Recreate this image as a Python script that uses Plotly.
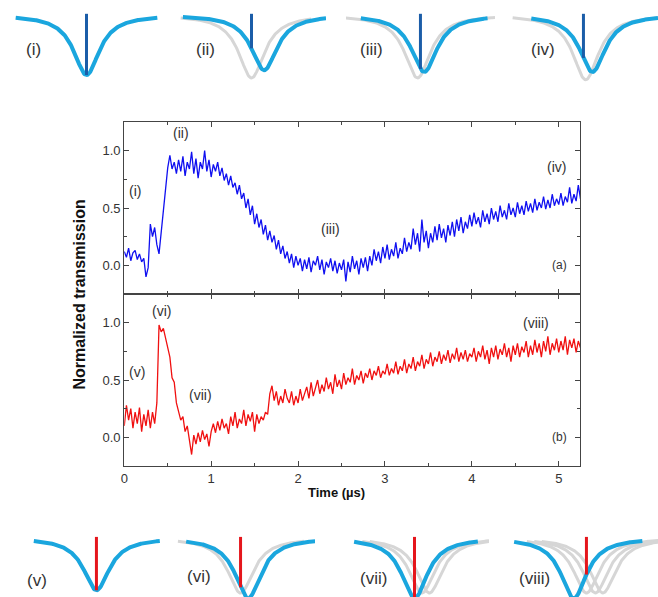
import numpy as np
import plotly.graph_objects as go

W, H = 658, 597

# ---------------- data ----------------
t_start, t_step = 0.0, 0.025
blue_trace = [
    0.12, 0.07, 0.15, 0.04, 0.11, 0.13, 0.05, 0.10, 0.03, 0.06,
    -0.10, -0.02, 0.36, 0.25, 0.33, 0.18, 0.10, 0.28, 0.52, 0.68,
    0.85, 0.96, 0.84, 0.90, 0.80, 0.92, 0.82, 0.95, 0.78, 0.90,
    0.84, 0.99, 0.80, 0.93, 0.76, 0.90, 0.84, 1.00, 0.82, 0.92,
    0.77, 0.88, 0.82, 0.90, 0.78, 0.85, 0.74, 0.80, 0.70, 0.78,
    0.68, 0.72, 0.62, 0.70, 0.58, 0.63, 0.50, 0.58, 0.44, 0.52,
    0.36, 0.45, 0.33, 0.40, 0.27, 0.35, 0.22, 0.30, 0.20, 0.26,
    0.14, 0.22, 0.10, 0.17, 0.06, 0.12, 0.02, 0.10, -0.02, 0.08,
    0.00, 0.06, -0.05, 0.05, -0.03, 0.07, -0.06, 0.04, 0.00, 0.08,
    -0.04, 0.05, -0.08, 0.03, -0.02, 0.06, -0.05, 0.04, -0.07, 0.02,
    -0.04, 0.05, -0.14, 0.03, -0.06, 0.08, -0.03, 0.04, -0.08, 0.06,
    -0.02, 0.07, -0.05, 0.08, 0.00, 0.14, 0.04, 0.12, 0.02, 0.16,
    0.06, 0.18, 0.05, 0.14, 0.08, 0.20, 0.06, 0.15, 0.10, 0.24,
    0.12, 0.20, 0.14, 0.32, 0.18, 0.28, 0.12, 0.40, 0.20, 0.30,
    0.15, 0.28, 0.20, 0.34, 0.22, 0.36, 0.24, 0.32, 0.20, 0.35,
    0.26, 0.38, 0.25, 0.40, 0.30, 0.42, 0.28, 0.38, 0.32, 0.44,
    0.34, 0.46, 0.36, 0.42, 0.33, 0.48, 0.38, 0.45, 0.36, 0.50,
    0.40, 0.47, 0.38, 0.52, 0.42, 0.48, 0.40, 0.54, 0.44, 0.50,
    0.42, 0.55, 0.45, 0.52, 0.44, 0.56, 0.47, 0.54, 0.46, 0.58,
    0.48, 0.55, 0.50, 0.60, 0.49, 0.57, 0.50, 0.62, 0.52, 0.58,
    0.53, 0.63, 0.52, 0.60, 0.55, 0.68, 0.54, 0.62, 0.56, 0.70,
    0.58,
]
red_trace = [
    0.10, 0.28, 0.15, 0.25, 0.08, 0.22, 0.12, 0.26, 0.05, 0.20,
    0.10, 0.24, 0.08, 0.22, 0.12, 0.30, 0.98, 0.92, 0.95, 0.86,
    0.80, 0.70, 0.52, 0.48, 0.30, 0.22, 0.15, 0.18, 0.05, 0.10,
    -0.05, -0.15, 0.02, -0.06, 0.04, -0.04, 0.06, -0.02, 0.03, -0.08,
    0.05, 0.12, 0.04, 0.14, 0.06, 0.16, 0.08, 0.12, 0.03, 0.18,
    0.10, 0.22, 0.08, 0.16, 0.12, 0.24, 0.10, 0.20, 0.14, 0.22,
    0.05, 0.20, 0.12, 0.18, 0.15, 0.22, 0.20, 0.38, 0.45, 0.32,
    0.40, 0.28, 0.36, 0.30, 0.42, 0.34, 0.30, 0.40, 0.28, 0.36,
    0.30, 0.42, 0.32, 0.38, 0.44, 0.34, 0.48, 0.36, 0.42, 0.50,
    0.38, 0.46, 0.40, 0.52, 0.42, 0.48, 0.38, 0.55, 0.44, 0.50,
    0.42, 0.56, 0.46, 0.52, 0.48, 0.60, 0.46, 0.54, 0.50, 0.58,
    0.47, 0.56, 0.52, 0.60, 0.50, 0.58, 0.54, 0.62, 0.52, 0.58,
    0.55, 0.64, 0.54, 0.60, 0.56, 0.66, 0.55, 0.62, 0.58, 0.68,
    0.56, 0.64, 0.60, 0.70, 0.58, 0.66, 0.62, 0.72, 0.60, 0.68,
    0.64, 0.74, 0.62, 0.70, 0.66, 0.75, 0.64, 0.72, 0.67, 0.76,
    0.65, 0.73, 0.68, 0.78, 0.66, 0.74, 0.68, 0.76, 0.66, 0.73,
    0.70, 0.78, 0.66, 0.75, 0.70, 0.80, 0.68, 0.76, 0.64, 0.78,
    0.70, 0.80, 0.68, 0.77, 0.72, 0.82, 0.70, 0.78, 0.66, 0.80,
    0.72, 0.82, 0.70, 0.79, 0.74, 0.84, 0.70, 0.80, 0.72, 0.85,
    0.74, 0.82, 0.70, 0.84, 0.75, 0.88, 0.72, 0.82, 0.76, 0.86,
    0.74, 0.84, 0.76, 0.88, 0.72, 0.85, 0.78, 0.86, 0.74, 0.84,
    0.78,
]
time_us = t_start + t_step * np.arange(len(blue_trace))

x_ticks = [0, 1, 2, 3, 4, 5]
y_ticks = [0.0, 0.5, 1.0]

# labels of the marked moments: (text, time, level)
top_marks_text = ["(i)", "(ii)", "(iii)", "(iv)"]
top_marks_t = [0.12, 0.65, 2.37, 4.97]
top_marks_v = [0.65, 1.15, 0.32, 0.86]
bot_marks_text = ["(v)", "(vi)", "(vii)", "(viii)"]
bot_marks_t = [0.15, 0.43, 0.88, 4.74]
bot_marks_v = [0.57, 1.10, 0.37, 1.00]

# schematic resonance pictures (detuning units, laser at 0)
top_labels = ["(i)", "(ii)", "(iii)", "(iv)"]
top_blue_center = [0.0, 0.17, 0.05, 0.12]
top_blue_depth = [1.0, 0.92, 0.95, 0.95]
top_blue_span = [(-0.95, 0.95), (-0.92, 1.0), (-0.8, 0.9), (-0.7, 1.0)]
top_gray_center = [[], [0.0], [-0.04], [0.03]]
top_gray_depth = [[], [1.05], [1.05], [1.08]]
top_gray_span = [[], [(-0.95, 0.8)], [(-1.0, 1.0)], [(-0.95, 1.0)]]

bot_labels = ["(v)", "(vi)", "(vii)", "(viii)"]
bot_blue_center = [0.0, 0.10, 0.0, -0.17]
bot_blue_depth = [0.95, 1.1, 1.1, 1.1]
bot_blue_span = [(-0.84, 0.85), (-0.73, 1.0), (-0.81, 0.85), (-0.97, 0.75)]
bot_gray_center = [[], [0.0], [0.10, 0.2], [0.0, 0.12, 0.22]]
bot_gray_depth = [[], [1.0], [1.0, 1.0], [1.0, 1.0, 1.0]]
bot_gray_span = [[], [(-0.84, 0.85)], [(-0.7, 1.0), (-0.6, 1.0)],
                 [(-0.8, 1.0), (-0.7, 1.0), (-0.6, 1.0)]]
hwhm = 0.21

# ---------------- styles / layout geometry (pixels) ----------------
BLUE_DATA = "#1010F0"
RED_DATA = "#F01010"
CURVE = "#1AA6DE"
GRAY = "#D6D6D6"
LASER_TOP = "#1B5DA8"
LASER_BOT = "#E5161C"
AXC = "#444444"
TXT = "#333333"
FONT = "Liberation Sans, Arial, sans-serif"

plot_l, plot_r = 121, 580
top_t, mid, bot_b = 122, 294, 466

def px(x):
    return x / W

def py(y):
    return 1 - y / H

fig = go.Figure()

fig.add_trace(go.Scatter(x=time_us, y=blue_trace, mode="lines",
                         line=dict(color=BLUE_DATA, width=1.3),
                         xaxis="x", yaxis="y", showlegend=False))
fig.add_trace(go.Scatter(x=time_us, y=red_trace, mode="lines",
                         line=dict(color=RED_DATA, width=1.3),
                         xaxis="x2", yaxis="y2", showlegend=False))

common_x = dict(range=[0, 5.25], tickvals=x_ticks, ticks="inside", ticklen=5,
                tickcolor=AXC, showline=True, linecolor=AXC, linewidth=1.2,
                mirror="allticks", showgrid=False, zeroline=False,
                minor=dict(dtick=0.5, tick0=0, ticks="inside", ticklen=3, tickcolor=AXC),
                tickfont=dict(family=FONT, size=13, color=TXT))
common_y = dict(range=[-0.25, 1.25], tickvals=y_ticks, ticktext=[f"{v:.1f}" for v in y_ticks],
                ticks="inside", ticklen=5, tickcolor=AXC, showline=True, linecolor=AXC,
                linewidth=1.2, mirror="allticks", showgrid=False, zeroline=False,
                minor=dict(dtick=0.25, tick0=0, ticks="inside", ticklen=3, tickcolor=AXC),
                tickfont=dict(family=FONT, size=13, color=TXT))

layout = dict(
    width=W, height=H, margin=dict(l=0, r=0, t=0, b=0),
    paper_bgcolor="white", plot_bgcolor="rgba(0,0,0,0)", showlegend=False,
    xaxis=dict(common_x, domain=[px(plot_l), px(plot_r)], anchor="y", showticklabels=False),
    yaxis=dict(common_y, domain=[py(mid), py(top_t)], anchor="x"),
    xaxis2=dict(common_x, domain=[px(plot_l), px(plot_r)], anchor="y2"),
    yaxis2=dict(common_y, domain=[py(bot_b), py(mid)], anchor="x2"),
)

annotations = []
for txt, t, v in zip(top_marks_text, top_marks_t, top_marks_v):
    annotations.append(dict(x=t, y=v, xref="x", yref="y", text=txt, showarrow=False,
                            xanchor="center", yanchor="middle",
                            font=dict(family=FONT, size=14, color=TXT)))
for txt, t, v in zip(bot_marks_text, bot_marks_t, bot_marks_v):
    annotations.append(dict(x=t, y=v, xref="x2", yref="y2", text=txt, showarrow=False,
                            xanchor="center", yanchor="middle",
                            font=dict(family=FONT, size=14, color=TXT)))
annotations.append(dict(x=5.12, y=0.0, xref="x", yref="y", text="(a)", showarrow=False,
                        xanchor="right", yanchor="middle",
                        font=dict(family=FONT, size=12, color=TXT)))
annotations.append(dict(x=5.12, y=0.0, xref="x2", yref="y2", text="(b)", showarrow=False,
                        xanchor="right", yanchor="middle",
                        font=dict(family=FONT, size=12, color=TXT)))
annotations.append(dict(x=px(75), y=py(295), xref="paper", yref="paper",
                        text="<b>Normalized transmission</b>", textangle=-90, showarrow=False,
                        xanchor="center", yanchor="middle",
                        font=dict(family=FONT, size=16, color="#111111")))
annotations.append(dict(x=px(335), y=py(493), xref="paper", yref="paper",
                        text="<b>Time (\u00b5s)</b>", showarrow=False,
                        xanchor="center", yanchor="middle",
                        font=dict(family=FONT, size=13, color="#111111")))

# ---------------- schematic panels ----------------
def lor(xs, c, depth):
    return -depth / (1 + ((xs - c) / hwhm) ** 2)

top_left_px = [8, 174, 344, 508]
bot_left_px = [18, 163, 338, 511]
top_label_px = [(30, 50), (203, 50), (370, 50), (542, 50)]
bot_label_px = [(33, 580), (196, 576), (372, 578), (534, 578)]
unit_px = 75.0

rows = [
    dict(lefts=top_left_px, labels=top_labels, bc=top_blue_center, bd=top_blue_depth,
         bs=top_blue_span, gc=top_gray_center, gd=top_gray_depth, gs=top_gray_span,
         ydom=(0, 95), base=15, unit_y=60.0, laser=LASER_TOP, lab=top_label_px),
    dict(lefts=bot_left_px, labels=bot_labels, bc=bot_blue_center, bd=bot_blue_depth,
         bs=bot_blue_span, gc=bot_gray_center, gd=bot_gray_depth, gs=bot_gray_span,
         ydom=(510, 597), base=538, unit_y=55.0, laser=LASER_BOT, lab=bot_label_px),
]

ax_i = 3
for row in rows:
    y0p, y1p = row["ydom"]
    yr = [-(y1p - row["base"]) / row["unit_y"], (row["base"] - y0p) / row["unit_y"]]
    for k in range(4):
        left = row["lefts"][k]
        right = min(left + 2 * unit_px, W)
        xr = [-1.0, (right - left) / unit_px - 1.0]
        xa, ya = f"x{ax_i}", f"y{ax_i}"
        layout[f"xaxis{ax_i}"] = dict(domain=[px(left), px(right)], range=xr, visible=False,
                                      anchor=ya, fixedrange=True)
        layout[f"yaxis{ax_i}"] = dict(domain=[py(y1p), py(y0p)], range=yr, visible=False,
                                      anchor=xa, fixedrange=True)
        for c, d, (s0, s1) in zip(row["gc"][k], row["gd"][k], row["gs"][k]):
            xs = np.linspace(s0, s1, 200)
            fig.add_trace(go.Scatter(x=xs, y=lor(xs, c, d), mode="lines",
                                     line=dict(color=GRAY, width=3), xaxis=xa, yaxis=ya))
        s0, s1 = row["bs"][k]
        xs = np.linspace(s0, s1, 200)
        fig.add_trace(go.Scatter(x=xs, y=lor(xs, row["bc"][k], row["bd"][k]), mode="lines",
                                 line=dict(color=CURVE, width=4), xaxis=xa, yaxis=ya))
        lv = lor(np.array([0.0]), row["bc"][k], row["bd"][k])[0]
        fig.add_trace(go.Scatter(x=[0, 0], y=[0.02, lv], mode="lines",
                                 line=dict(color=row["laser"], width=3), xaxis=xa, yaxis=ya))
        lx, ly = row["lab"][k]
        annotations.append(dict(x=px(lx), y=py(ly), xref="paper", yref="paper",
                                text=row["labels"][k], showarrow=False,
                                xanchor="center", yanchor="middle",
                                font=dict(family=FONT, size=17, color=TXT)))
        ax_i += 1

layout["annotations"] = annotations
fig.update_layout(**layout)
fig.update_traces(hoverinfo="skip")
fig.write_html("out.html")
